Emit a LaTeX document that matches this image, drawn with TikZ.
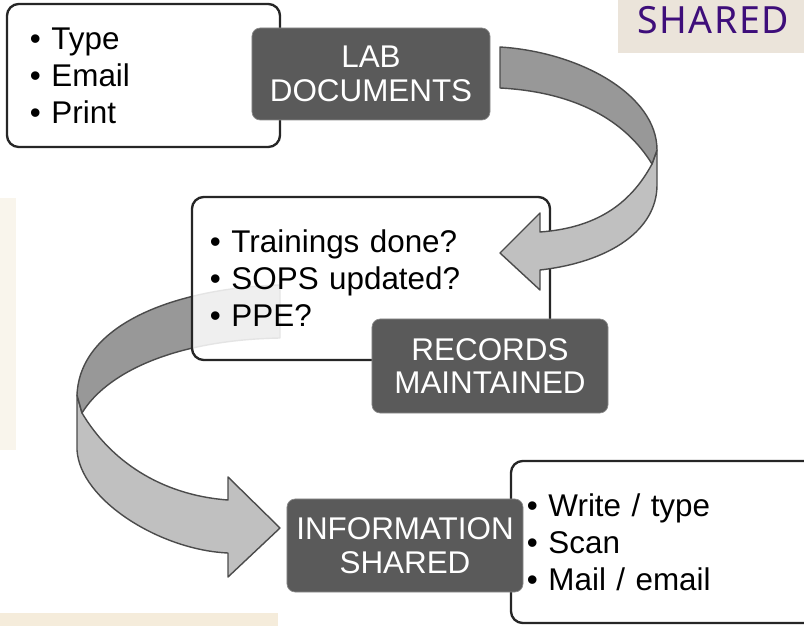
\documentclass[tikz,border=0pt]{standalone}
\usepackage{fontspec}
\setmainfont{Liberation Sans}
\newfontfamily\tagfont[LetterSpace=4]{Noto Sans}
\definecolor{boxgray}{RGB}{90,90,90}
\definecolor{ribbondark}{RGB}{152,152,152}
\definecolor{ribbonlight}{RGB}{192,192,192}
\definecolor{ribbonline}{RGB}{75,75,75}
\definecolor{tagbeige}{RGB}{235,228,218}
\definecolor{tagpurple}{RGB}{62,14,122}
\definecolor{panelbeige}{RGB}{249,245,236}
\definecolor{stripbeige}{RGB}{245,236,219}
\begin{document}
\begin{tikzpicture}[x=0.03cm,y=-0.03cm,
    listbox/.style={draw=black!85,line width=2pt,rounded corners=10pt,fill=white,
      align=left,font=\fontsize{26.8}{31.6}\selectfont},
    titlebox/.style={fill=boxgray,draw=black!45,line width=0.6pt,rounded corners=7pt,
      text=white,align=center,font=\fontsize{26.8}{28.5}\selectfont,
      minimum width=7.08cm,minimum height=2.79cm,inner sep=0pt},
    ribbon/.style={draw=ribbonline,line width=1.2pt,line join=round}]
        \useasboundingbox (0,0) rectangle (804,626);
        \fill[panelbeige] (0,198) rectangle (16,450);
        \fill[stripbeige] (0,613) rectangle (278,630);
        % left loop, from records to information
        \filldraw[ribbon,fill=ribbonlight] (82,413) .. controls (110,460) and (160,495) .. (228,500)
          -- (228,477) -- (280,528) -- (228,577) -- (228,553)
          .. controls (160,550) and (80,500) .. (77,450) -- (77,395) -- cycle;
        \filldraw[ribbon,fill=ribbondark] (280,285) .. controls (180,288) and (80,322) .. (77,395)
          -- (82,413) .. controls (105,375) and (170,340) .. (280,338) -- cycle;
        \node[listbox,inner xsep=0.69cm,text width=6.81cm,minimum height=4.29cm] at (143.5,75.5) (docs)
          {• Type\\• Email\\• Print};
        \node[titlebox,minimum width=7.14cm,minimum height=2.76cm] at (371,74) (lab) {LAB\\DOCUMENTS};
        \node[listbox,fill opacity=0.85,text opacity=1,inner xsep=0.54cm,text width=9.66cm,
          minimum height=4.89cm] at (371,278.5) (checks) {• Trainings done?\\• SOPS updated?\\• PPE?};
        \node[titlebox,minimum height=2.82cm] at (490,366) (records) {RECORDS\\MAINTAINED};
        % right loop, from lab documents to records
        \filldraw[ribbon,fill=ribbonlight] (652,164) .. controls (630,205) and (595,228) .. (540,232)
          -- (540,213) -- (500,253) -- (540,290) -- (540,270)
          .. controls (610,262) and (657,230) .. (657,185) -- (657,150) -- cycle;
        \filldraw[ribbon,fill=ribbondark] (500,47) .. controls (580,52) and (657,95) .. (657,150)
          -- (652,164) .. controls (625,120) and (575,92) .. (500,88) -- cycle;
        \node[listbox,inner xsep=0.48cm,text width=8.61cm,minimum height=4.86cm] at (670.5,542) (ways)
          {• Write / type\\• Scan\\• Mail / email};
        \node[titlebox] at (405,545.5) (info) {INFORMATION\\SHARED};
        \node[fill=tagbeige,text=tagpurple,font=\tagfont\fontsize{32}{36}\selectfont,anchor=north west,
          minimum width=5.7cm,inner sep=0pt,text height=0.99cm,text depth=0.6cm] at (618,0) (tag) {SHARED};
      \end{tikzpicture}
\end{document}
